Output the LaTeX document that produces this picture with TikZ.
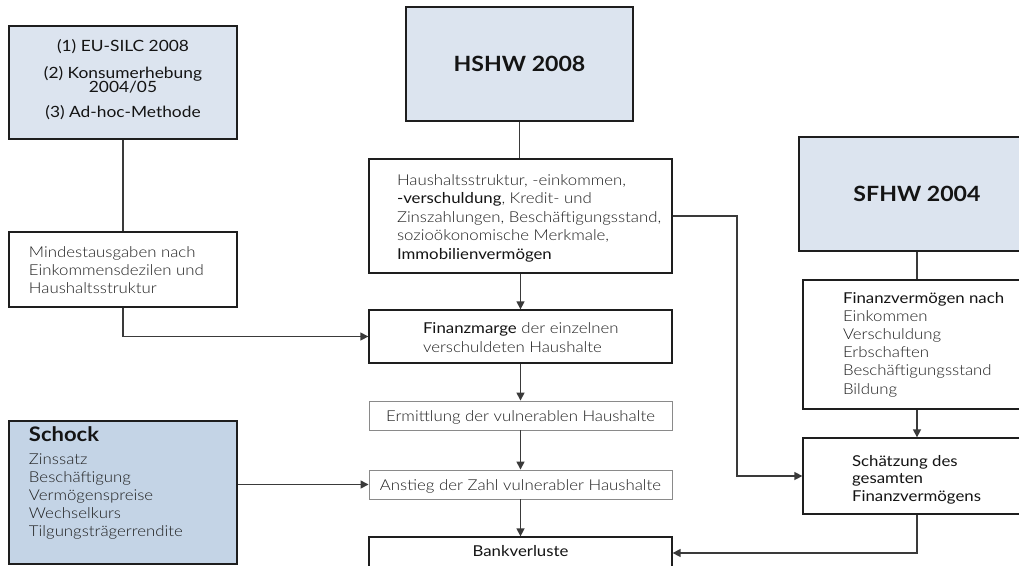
\documentclass[tikz,border=0pt]{standalone}
\usepackage{fontspec}
\usetikzlibrary{arrows.meta}
\IfFontExistsTF{Lato Light}{\newfontfamily\fLight{Lato Light}[FakeStretch=1.12]}{\newfontfamily\fLight{Lato}[FakeStretch=1.12]}
\newfontfamily\fReg{Lato}[FakeStretch=1.12]
\newfontfamily\fBold{Lato}[FakeStretch=1.1]
\definecolor{lightblue}{HTML}{DCE4EF}
\definecolor{shockblue}{HTML}{C4D4E6}
\definecolor{lighttext}{HTML}{1F1F1F}
\definecolor{darktext}{HTML}{141414}
\definecolor{edgecol}{HTML}{3A3A3A}
\definecolor{framecol}{HTML}{1E1E1E}
\definecolor{greyframe}{HTML}{8A8A8A}
% #1 width, #2 height, #3 setup, #4 first baseline offset, #5 text
\newcommand\boxtxt[5]{\parbox[c][#2][t]{#1}{\lineskiplimit=-40pt #3\rule{0pt}{#4}#5}}
\tikzset{
  box/.style={draw=framecol, line width=1.3pt, inner sep=0pt, fill=white, text=lighttext},
  bluebox/.style={box, fill=lightblue, text=darktext},
  greybox/.style={box, draw=greyframe, line width=0.9pt},
  link/.style={draw=edgecol, line width=1.4pt},
  arrow/.style={link, -{Triangle[length=8pt,width=8pt]}},
}
\begin{document}
\begin{tikzpicture}[x=1pt,y=-1pt]
\useasboundingbox (0,0) rectangle (1019,565);
\begin{scope}
\clip (0,0) rectangle (1019,565);
\node[bluebox, minimum width=228pt, minimum height=113pt] (src) at (123,82.5)
  {\boxtxt{228pt}{113pt}{\centering\fReg\fontsize{15.5}{14}\selectfont}{25pt}{(1) EU-SILC 2008\\[13pt](2) Konsumerhebung\\2004/05\\[11pt](3) Ad-hoc-Methode}};
\node[bluebox, minimum width=227pt, minimum height=114pt] (hshw) at (519.5,64)
  {\boxtxt{227pt}{114pt}{\centering\fBold\bfseries\fontsize{21}{24}\selectfont}{64pt}{HSHW 2008}};
\node[box, minimum width=303pt, minimum height=114pt] (hh) at (520.5,216)
  {\boxtxt{303pt}{114pt}{\raggedright\leftskip=28pt\fLight\fontsize{15}{18.5}\selectfont}{26pt}{Haushaltsstruktur, -einkommen,\\{\fReg\color{darktext}-verschuldung}, Kredit- und\\Zinszahlungen, Beschäftigungsstand,\\sozioökonomische Merkmale,\\{\fReg\color{darktext}Immobilienvermögen}}};
\node[box, minimum width=228pt, minimum height=75pt] (mind) at (123,269.5)
  {\boxtxt{228pt}{75pt}{\raggedright\leftskip=20pt\fLight\fontsize{15}{18}\selectfont}{25pt}{Mindestausgaben nach\\Einkommensdezilen und\\Haushaltsstruktur}};
\node[box, minimum width=303pt, minimum height=53pt] (fm) at (520.5,336.5)
  {\boxtxt{303pt}{53pt}{\raggedright\leftskip=54pt\fLight\fontsize{15}{19}\selectfont}{23pt}{{\fReg\color{darktext}Finanzmarge} der einzelnen\\verschuldeten Haushalte}};
\node[greybox, minimum width=303pt, minimum height=29pt] (erm) at (520.5,415.5)
  {\boxtxt{303pt}{29pt}{\centering\fLight\fontsize{15}{18}\selectfont}{20.5pt}{Ermittlung der vulnerablen Haushalte}};
\node[greybox, minimum width=303pt, minimum height=29pt] (ans) at (520.5,484.5)
  {\boxtxt{303pt}{29pt}{\centering\fLight\fontsize{15}{18}\selectfont}{20pt}{Anstieg der Zahl vulnerabler Haushalte}};
\node[box, text=darktext, minimum width=303pt, minimum height=32pt] (bank) at (520.5,553)
  {\boxtxt{303pt}{32pt}{\centering\fReg\fontsize{15}{18}\selectfont}{19pt}{Bankverluste}};
\node[bluebox, minimum width=236pt, minimum height=114pt] (sfhw) at (917,194)
  {\boxtxt{236pt}{114pt}{\centering\fBold\bfseries\fontsize{21}{24}\selectfont}{64pt}{SFHW 2004}};
\node[box, minimum width=228pt, minimum height=129pt] (fv) at (917,344.5)
  {\boxtxt{228pt}{129pt}{\raggedright\leftskip=40pt\fLight\fontsize{15}{18.2}\selectfont}{23pt}{{\fReg\color{darktext}Finanzvermögen nach}\\Einkommen\\Verschuldung\\Erbschaften\\Beschäftigungsstand\\Bildung}};
\node[box, text=darktext, minimum width=228pt, minimum height=76pt] (sch) at (917,476)
  {\boxtxt{228pt}{76pt}{\raggedright\leftskip=49pt\fReg\fontsize{15}{17.5}\selectfont}{28pt}{Schätzung des\\gesamten\\Finanzvermögens}};
\node[box, fill=shockblue, minimum width=228pt, minimum height=143pt] (schock) at (123,492.5)
  {\boxtxt{228pt}{143pt}{\raggedright\leftskip=20pt\fLight\fontsize{15}{18}\selectfont}{20pt}{{\fBold\bfseries\color{darktext}\fontsize{20}{20}\selectfont Schock}\\[5pt]Zinssatz\\Beschäftigung\\Vermögenspreise\\Wechselkurs\\Tilgungsträgerrendite}};
\coordinate (j1) at (737,216);
\draw[link] (src.south) -- (mind.north);
\draw[link] (hshw.south) -- (hshw.south |- hh.north);
\draw[arrow] (hh.south) -- (fm.north);
\draw[arrow] (mind.south) |- (fm.west);
\draw[arrow] (fm.south) -- (erm.north);
\draw[arrow] (erm.south) -- (ans.north);
\draw[arrow] (ans.south) -- (bank.north);
\draw[arrow] (ans.west -| schock.east) -- (ans.west);
\draw[arrow] (hh.east) -- (j1) |- (sch.west);
\draw[link] (sfhw.south) -- (fv.north);
\draw[arrow] (fv.south) -- (sch.north);
\draw[arrow] (sch.south) |- (bank.east);
\end{scope}
\end{tikzpicture}
\end{document}
